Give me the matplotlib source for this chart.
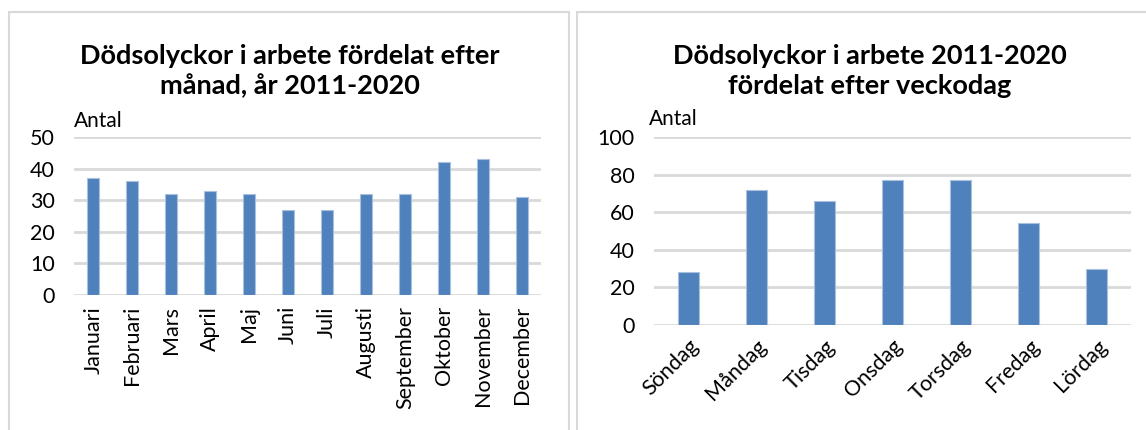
import matplotlib.pyplot as plt
from matplotlib.patches import Rectangle

plt.rcParams['font.family'] = ['Lato', 'DejaVu Sans']

months = ['Januari', 'Februari', 'Mars', 'April', 'Maj', 'Juni', 'Juli',
          'Augusti', 'September', 'Oktober', 'November', 'December']
month_counts = [37, 36, 32, 33, 32, 27, 27, 32, 32, 42, 43, 31]

weekdays = ['Söndag', 'Måndag', 'Tisdag', 'Onsdag', 'Torsdag', 'Fredag', 'Lördag']
weekday_counts = [28, 72, 66, 77, 77, 54, 30]

bar_color = '#4f81bd'
grid_color = '#d9d9d9'

fig = plt.figure(figsize=(11.46, 4.30), dpi=100)

# panel frames
W, H = 1146.0, 430.0
for x0, x1 in [(9, 569), (577, 1152)]:
    fig.patches.append(Rectangle((x0 / W, -0.05), (x1 - x0) / W, 1.05 - 12 / H,
                                 transform=fig.transFigure, fill=False,
                                 edgecolor=grid_color, linewidth=1.5))


def style(ax, ymax, step):
    ax.set_ylim(0, ymax)
    ax.set_yticks(range(0, ymax + 1, step))
    ax.yaxis.grid(True, color=grid_color, linewidth=2)
    ax.set_axisbelow(True)
    for s in ax.spines.values():
        s.set_visible(False)
    ax.tick_params(length=0, labelsize=15.5, colors='#000000')
    ax.tick_params(axis='y', pad=14)
    ax.tick_params(axis='x', pad=8)


ax1 = fig.add_axes([74 / W, 1 - 295 / H, (541 - 74) / W, (295 - 137) / H])
ax1.bar(range(len(months)), month_counts, width=0.31, color=bar_color,
        edgecolor='#a9c1df', linewidth=0.8)
ax1.set_xlim(-0.5, len(months) - 0.5)
style(ax1, 50, 10)
ax1.set_xticks(range(len(months)))
ax1.set_xticklabels(months, rotation=90, fontsize=15.5)
ax1.text(0.0, 1.04, 'Antal', transform=ax1.transAxes, fontsize=15, va='bottom')
fig.text(290 / W, 1 - 71 / H, 'Dödsolyckor i arbete fördelat efter\nmånad, år 2011-2020',
         ha='center', va='center', fontsize=19.5, fontweight='bold', linespacing=1.3)

ax2 = fig.add_axes([654 / W, 1 - 325 / H, (1131 - 654) / W, (325 - 137) / H])
ax2.bar(range(len(weekdays)), weekday_counts, width=0.31, color=bar_color,
        edgecolor='#a9c1df', linewidth=0.8)
ax2.set_xlim(-0.5, len(weekdays) - 0.5)
style(ax2, 100, 20)
ax2.set_xticks(range(len(weekdays)))
ax2.set_xticklabels(weekdays, rotation=45, ha='right', rotation_mode='anchor', fontsize=15.5)
ax2.text(-0.01, 1.04, 'Antal', transform=ax2.transAxes, fontsize=15, va='bottom')
fig.text(870 / W, 1 - 71 / H, 'Dödsolyckor i arbete 2011-2020\nfördelat efter veckodag',
         ha='center', va='center', fontsize=19.5, fontweight='bold', linespacing=1.3)

fig.savefig('out.png', dpi=100)
